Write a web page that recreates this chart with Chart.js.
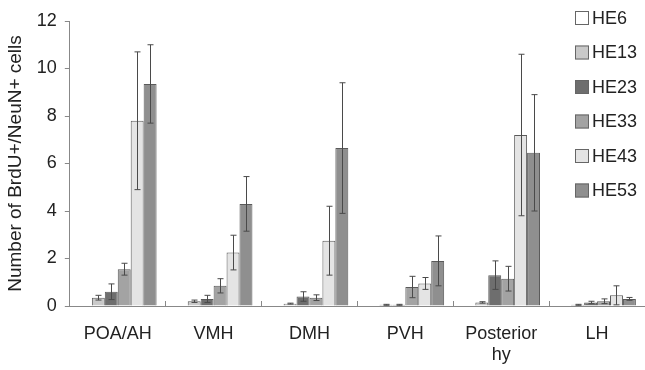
<!DOCTYPE html>
<html>
<head>
<meta charset="utf-8">
<script src="https://cdn.jsdelivr.net/npm/chart.js@4/dist/chart.umd.min.js"></script>
<style>
  html, body { margin: 0; padding: 0; background: #fff; }
  canvas { display: block; }
</style>
</head>
<body>
<canvas id="chart" width="645" height="370"></canvas>
<script>
// categories and series
var regions = ["POA/AH", "VMH", "DMH", "PVH", ["Posterior", "hy"], "LH"];
var seriesNames = ["HE6", "HE13", "HE23", "HE33", "HE43", "HE53"];

var he6  = [0.02, 0.02, 0.02, 0.02, 0.02, 0.02];
var he13 = [0.35, 0.2, 0.1, 0.05, 0.15, 0.05];
var he23 = [0.6, 0.3, 0.4, 0.05, 1.3, 0.15];
var he33 = [1.55, 0.85, 0.35, 0.8, 1.15, 0.2];
var he43 = [7.8, 2.25, 2.75, 0.95, 7.2, 0.45];
var he53 = [9.35, 4.3, 6.65, 1.9, 6.45, 0.3];

// error (+/-) per series
var he6Err  = [0, 0, 0, 0, 0, 0];
var he13Err = [0.1, 0.05, 0.02, 0.02, 0.03, 0.02];
var he23Err = [0.33, 0.15, 0.2, 0.02, 0.6, 0.05];
var he33Err = [0.25, 0.3, 0.12, 0.45, 0.52, 0.1];
var he43Err = [2.9, 0.73, 1.45, 0.25, 3.4, 0.4];
var he53Err = [1.65, 1.15, 2.75, 1.05, 2.45, 0.06];

var yTicks = [0, 2, 4, 6, 8, 10, 12];

var fills = ["#ffffff", "#c9c9c9", "#6e6e6e", "#a3a3a3", "#e4e4e4", "#8f8f8f"];
var FONT = "'Liberation Sans', Arial, sans-serif";

var allVals = [he6, he13, he23, he33, he43, he53];
var allErr = [he6Err, he13Err, he23Err, he33Err, he43Err, he53Err];

var datasets = seriesNames.map(function (name, i) {
  return {
    label: name,
    data: allVals[i],
    err: allErr[i],
    backgroundColor: fills[i],
    borderColor: "#5a5a5a",
    borderWidth: 1,
    barPercentage: 1.0,
    categoryPercentage: 0.81
  };
});

// error bars drawn from the y scale
var errorBars = {
  id: "errorBars",
  afterDatasetsDraw: function (chart) {
    var ctx = chart.ctx, y = chart.scales.y;
    ctx.save();
    ctx.strokeStyle = "#4a4a4a";
    ctx.lineWidth = 1;
    chart.data.datasets.forEach(function (ds, di) {
      var meta = chart.getDatasetMeta(di);
      meta.data.forEach(function (bar, i) {
        var e = ds.err[i];
        if (!e) return;
        var v = ds.data[i];
        var top = y.getPixelForValue(v + e);
        var bot = y.getPixelForValue(Math.max(0, v - e));
        var x = Math.round(bar.x) + 0.5;
        ctx.beginPath();
        ctx.moveTo(x, top); ctx.lineTo(x, bot);
        ctx.moveTo(x - 3, top); ctx.lineTo(x + 3, top);
        ctx.moveTo(x - 3, bot); ctx.lineTo(x + 3, bot);
        ctx.stroke();
      });
    });
    ctx.restore();
  }
};

// legend overlaid at top-right of the plot
var sideLegend = {
  id: "sideLegend",
  afterDraw: function (chart) {
    var ctx = chart.ctx;
    ctx.save();
    ctx.font = "18px " + FONT;
    ctx.textBaseline = "middle";
    chart.data.datasets.forEach(function (ds, i) {
      var cy = 18 + i * 34.5;
      ctx.fillStyle = ds.backgroundColor;
      ctx.fillRect(575, cy - 7, 14, 14);
      ctx.strokeStyle = "#666";
      ctx.lineWidth = 1;
      ctx.strokeRect(575.5, cy - 6.5, 13, 13);
      ctx.fillStyle = "#222";
      ctx.fillText(ds.label, 592, cy + 1);
    });
    ctx.restore();
  }
};

new Chart(document.getElementById("chart"), {
  type: "bar",
  data: { labels: regions, datasets: datasets },
  options: {
    responsive: false,
    animation: false,
    layout: { padding: { top: 21, right: 0, bottom: 0, left: 4 } },
    plugins: {
      legend: { display: false },
      tooltip: { enabled: false }
    },
    scales: {
      x: {
        afterFit: function (scale) { scale.height = 64; },
        grid: { display: true, offset: true, drawOnChartArea: false, tickLength: -5, color: "#888" },
        border: { color: "#888" },
        ticks: { color: "#222", font: { family: FONT, size: 18 }, padding: 22, maxRotation: 0 }
      },
      y: {
        min: 0, max: 12,
        afterBuildTicks: function (axis) {
          axis.ticks = yTicks.map(function (v) { return { value: v }; });
        },
        grid: { display: true, drawOnChartArea: false, tickLength: 5, color: "#888" },
        border: { color: "#888" },
        ticks: { color: "#222", font: { family: FONT, size: 18 }, padding: 8 },
        title: {
          display: true,
          text: "Number of BrdU+/NeuN+ cells",
          color: "#222",
          font: { family: FONT, size: 19 },
          padding: { top: 0, bottom: 2 }
        }
      }
    }
  },
  plugins: [errorBars, sideLegend]
});
</script>
</body>
</html>
